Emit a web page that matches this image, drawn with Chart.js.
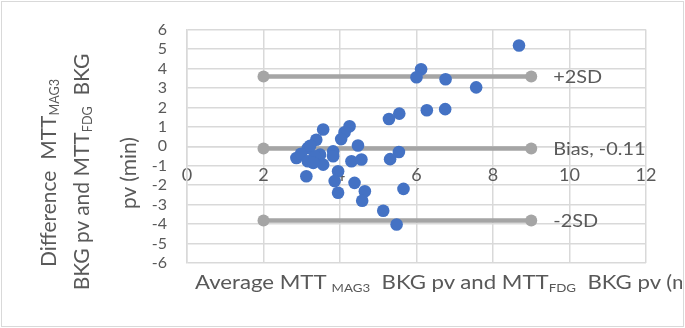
<!DOCTYPE html>
<html>
<head>
<meta charset="utf-8">
<script src="https://cdn.jsdelivr.net/npm/chart.js@4/dist/chart.umd.min.js"></script>
<style>
  html, body { margin: 0; padding: 0; background: #fff; }
  #wrap { position: relative; width: 685px; height: 328px; overflow: hidden; font-family: Lato, "Open Sans", sans-serif; color: #595959; }
  #frame { position: absolute; left: 1px; top: 1px; width: 681px; height: 324px; border: 1px solid #D9D9D9; box-sizing: content-box; pointer-events: none; }
  canvas { position: absolute; left: 0; top: 0; }
  .ytl { position: absolute; white-space: pre; font-size: 21px; line-height: 1; transform: translate(-50%, -50%) rotate(-90deg); }
  .xclip { position: absolute; left: 0; top: 262px; width: 682px; height: 40px; overflow: hidden; }
  .xt { position: absolute; left: 195px; top: 11px; white-space: pre; font-size: 18.5px; line-height: 1; transform: scaleX(1.2); transform-origin: 0 0; }
  sub { font-size: 0.6em; vertical-align: -0.3em; line-height: 0; }
</style>
</head>
<body>
<div id="wrap">
  <canvas id="c" width="685" height="328"></canvas>
  <div class="ytl" style="left:47px; top:173px;">Difference  MTT<sub>MAG3</sub></div>
  <div class="ytl" style="left:80px; top:172px;">BKG pv and MTT<sub>FDG</sub>  BKG</div>
  <div class="ytl" style="left:127px; top:173px;">pv (min)</div>
  <div class="xclip"><div class="xt">Average MTT <sub>MAG3</sub>  BKG pv and MTT<sub>FDG</sub>  BKG pv (min)</div></div>
  <div id="frame"></div>
</div>
<script>
// Average of the two MTT measurements (x) and their difference (y)
const averageMTT = [8.68, 6.12, 6.00, 6.76, 7.56, 5.55, 5.28, 6.27, 6.75, 5.54, 5.31, 5.66, 5.13, 5.48,
  3.56, 4.25, 4.12, 4.03, 4.47, 3.38, 3.16, 2.86, 2.98, 3.16, 3.48, 3.56, 3.34, 3.82, 3.82, 3.12,
  4.30, 4.56, 3.95, 3.86, 4.38, 3.95, 4.65, 4.58, 3.22, 3.30];
const differenceMTT = [5.18, 3.96, 3.55, 3.45, 3.03, 1.68, 1.40, 1.85, 1.91, -0.29, -0.66, -2.19, -3.31, -4.02,
  0.86, 1.03, 0.72, 0.37, 0.04, 0.34, -0.09, -0.60, -0.38, -0.77, -0.43, -0.94, -0.51, -0.26, -0.51, -1.54,
  -0.77, -0.68, -1.28, -1.79, -1.88, -2.39, -2.31, -2.80, 0.03, -0.85];
// Reference lines (Bland-Altman limits)
const refNames = ['+2SD', 'Bias, -0.11', '-2SD'];
const refValues = [3.59, -0.11, -3.81];
const refRange = [2, 9];
// Axis ticks
const xTicks = [0, 2, 4, 6, 8, 10, 12];
const yTicks = [-6, -5, -4, -3, -2, -1, 0, 1, 2, 3, 4, 5, 6];

const FONT = 'Lato, "Open Sans", sans-serif';
const TEXT = '#595959';
const GRID = '#D9D9D9';

const scatterData = averageMTT.map((x, i) => ({ x: x, y: differenceMTT[i] }));
const refDatasets = refValues.map((v, i) => ({
  type: 'line',
  label: refNames[i],
  data: refRange.map(x => ({ x: x, y: v })),
  borderColor: '#A5A5A5',
  backgroundColor: '#A5A5A5',
  borderWidth: 4.5,
  pointRadius: 6,
  pointHoverRadius: 6,
  pointBorderWidth: 0,
  showLine: true,
  fill: false
}));

const refLabelPlugin = {
  id: 'refLabels',
  afterDatasetsDraw(chart) {
    const ctx = chart.ctx;
    chart.data.datasets.forEach((ds, i) => {
      if (ds.type !== 'line') return;
      const meta = chart.getDatasetMeta(i);
      const pt = meta.data[meta.data.length - 1];
      ctx.save();
      ctx.translate(pt.x + 22, pt.y + 1);
      ctx.scale(1.17, 1);
      ctx.font = '17px ' + FONT;
      ctx.fillStyle = TEXT;
      ctx.textAlign = 'left';
      ctx.textBaseline = 'middle';
      ctx.fillText(ds.label, 0, 0);
      ctx.restore();
    });
  }
};

new Chart(document.getElementById('c'), {
  type: 'scatter',
  data: {
    datasets: [{
      type: 'scatter',
      label: 'Difference',
      data: scatterData,
      backgroundColor: '#4472C4',
      borderColor: '#4472C4',
      pointRadius: 6.3,
      pointHoverRadius: 6.3,
      borderWidth: 0
    }].concat(refDatasets)
  },
  options: {
    responsive: false,
    animation: false,
    devicePixelRatio: 1,
    layout: { padding: { top: 29, right: 39, bottom: 65, left: 0 } },
    plugins: { legend: { display: false }, tooltip: { enabled: false } },
    scales: {
      x: {
        type: 'linear',
        position: { y: 0 },
        min: 0, max: 12,
        afterBuildTicks(scale) { scale.ticks = xTicks.map(v => ({ value: v })); },
        grid: { color: GRID, lineWidth: 1.5, drawTicks: false },
        border: { color: GRID, width: 1.5 },
        ticks: { color: TEXT, font: { family: FONT, size: 18 }, padding: 18, maxRotation: 0, autoSkip: false }
      },
      y: {
        type: 'linear',
        min: -6, max: 6,
        afterBuildTicks(scale) { scale.ticks = yTicks.map(v => ({ value: v })); },
        afterFit(scale) { scale.width = 187; },
        grid: { color: GRID, lineWidth: 1.5, drawTicks: false },
        border: { color: GRID, width: 1.5 },
        ticks: { color: TEXT, font: { family: FONT, size: 16 }, padding: 20, autoSkip: false }
      }
    }
  },
  plugins: [refLabelPlugin]
});
</script>
</body>
</html>
